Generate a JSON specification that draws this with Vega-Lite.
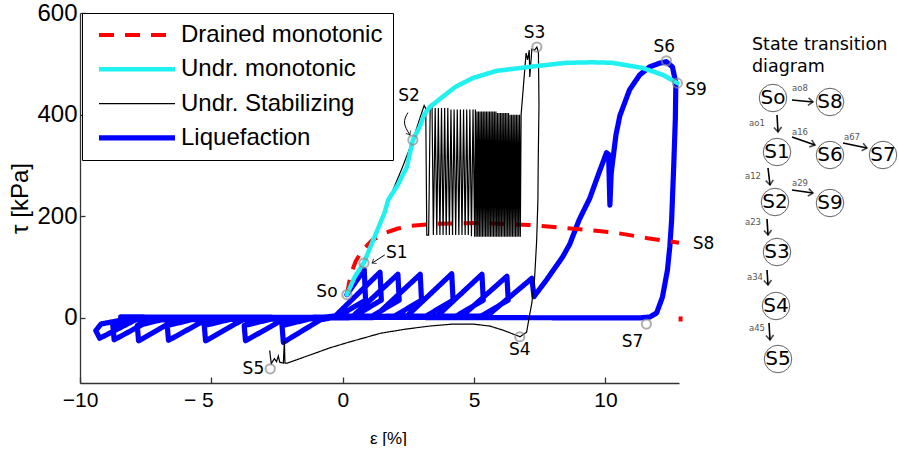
{
  "$schema": "https://vega.github.io/schema/vega-lite/v6.json",
  "background": "white",
  "padding": {"left": 8, "top": 1, "right": 0, "bottom": 0},
  "bounds": "flush",
  "spacing": 54,
  "config": {
    "view": {"stroke": null},
    "axis": {
      "grid": false,
      "domainColor": "#333",
      "domainWidth": 1.3,
      "tickColor": "#333",
      "tickWidth": 1.3,
      "labelColor": "#000",
      "titleColor": "#000",
      "labelFont": "Liberation Sans",
      "titleFont": "Liberation Sans",
      "titleFontWeight": "normal",
      "labelFlush": false,
      "labelOverlap": false
    },
    "text": {"font": "DejaVu Sans"}
  },
  "datasets": {
    "curves": [
      {"s": "Liquefaction", "i": 1, "x": 0.16, "y": 46},
      {"s": "Liquefaction", "i": 2, "x": 0.82, "y": 95},
      {"s": "Liquefaction", "i": 3, "x": 0.87, "y": 35},
      {"s": "Liquefaction", "i": 4, "x": -0.18, "y": 3},
      {"s": "Liquefaction", "i": 5, "x": -0.86, "y": -4},
      {"s": "Liquefaction", "i": 6, "x": -2.26, "y": -48},
      {"s": "Liquefaction", "i": 7, "x": -2.31, "y": -15},
      {"s": "Liquefaction", "i": 8, "x": -1.26, "y": -2},
      {"s": "Liquefaction", "i": 9, "x": -0.28, "y": 4},
      {"s": "Liquefaction", "i": 10, "x": 1.42, "y": 90},
      {"s": "Liquefaction", "i": 11, "x": 1.47, "y": 35},
      {"s": "Liquefaction", "i": 12, "x": 0.42, "y": 3},
      {"s": "Liquefaction", "i": 13, "x": -2.3, "y": -4},
      {"s": "Liquefaction", "i": 14, "x": -3.7, "y": -45},
      {"s": "Liquefaction", "i": 15, "x": -3.75, "y": -15},
      {"s": "Liquefaction", "i": 16, "x": -2.7, "y": -2},
      {"s": "Liquefaction", "i": 17, "x": 0.4, "y": 4},
      {"s": "Liquefaction", "i": 18, "x": 2.1, "y": 86},
      {"s": "Liquefaction", "i": 19, "x": 2.15, "y": 35},
      {"s": "Liquefaction", "i": 20, "x": 1.1, "y": 3},
      {"s": "Liquefaction", "i": 21, "x": -3.82, "y": -4},
      {"s": "Liquefaction", "i": 22, "x": -5.22, "y": -45},
      {"s": "Liquefaction", "i": 23, "x": -5.27, "y": -15},
      {"s": "Liquefaction", "i": 24, "x": -4.22, "y": -2},
      {"s": "Liquefaction", "i": 25, "x": 1.25, "y": 4},
      {"s": "Liquefaction", "i": 26, "x": 2.95, "y": 86},
      {"s": "Liquefaction", "i": 27, "x": 3.0, "y": 35},
      {"s": "Liquefaction", "i": 28, "x": 1.95, "y": 3},
      {"s": "Liquefaction", "i": 29, "x": -5.23, "y": -4},
      {"s": "Liquefaction", "i": 30, "x": -6.63, "y": -44},
      {"s": "Liquefaction", "i": 31, "x": -6.68, "y": -15},
      {"s": "Liquefaction", "i": 32, "x": -5.63, "y": -2},
      {"s": "Liquefaction", "i": 33, "x": 2.45, "y": 4},
      {"s": "Liquefaction", "i": 34, "x": 4.15, "y": 87},
      {"s": "Liquefaction", "i": 35, "x": 4.2, "y": 35},
      {"s": "Liquefaction", "i": 36, "x": 3.15, "y": 3},
      {"s": "Liquefaction", "i": 37, "x": -6.37, "y": -4},
      {"s": "Liquefaction", "i": 38, "x": -7.77, "y": -45},
      {"s": "Liquefaction", "i": 39, "x": -7.82, "y": -15},
      {"s": "Liquefaction", "i": 40, "x": -6.77, "y": -2},
      {"s": "Liquefaction", "i": 41, "x": 3.6, "y": 4},
      {"s": "Liquefaction", "i": 42, "x": 5.3, "y": 86},
      {"s": "Liquefaction", "i": 43, "x": 5.35, "y": 35},
      {"s": "Liquefaction", "i": 44, "x": 4.3, "y": 3},
      {"s": "Liquefaction", "i": 45, "x": -7.3, "y": -4},
      {"s": "Liquefaction", "i": 46, "x": -8.7, "y": -43},
      {"s": "Liquefaction", "i": 47, "x": -8.75, "y": -15},
      {"s": "Liquefaction", "i": 48, "x": -7.7, "y": -2},
      {"s": "Liquefaction", "i": 49, "x": 4.55, "y": 4},
      {"s": "Liquefaction", "i": 50, "x": 6.25, "y": 82},
      {"s": "Liquefaction", "i": 51, "x": 6.3, "y": 35},
      {"s": "Liquefaction", "i": 52, "x": 5.25, "y": 3},
      {"s": "Liquefaction", "i": 53, "x": -7.9, "y": -4},
      {"s": "Liquefaction", "i": 54, "x": -9.25, "y": -40},
      {"s": "Liquefaction", "i": 55, "x": -9.4, "y": -25},
      {"s": "Liquefaction", "i": 56, "x": -9.2, "y": -12},
      {"s": "Liquefaction", "i": 57, "x": -8.2, "y": -2},
      {"s": "Liquefaction", "i": 58, "x": 5.5, "y": 4},
      {"s": "Liquefaction", "i": 59, "x": 7.2, "y": 78},
      {"s": "Liquefaction", "i": 60, "x": 7.28, "y": 42},
      {"s": "Liquefaction", "i": 61, "x": 7.76, "y": 75},
      {"s": "Liquefaction", "i": 62, "x": 8.37, "y": 120},
      {"s": "Liquefaction", "i": 63, "x": 8.64, "y": 145},
      {"s": "Liquefaction", "i": 64, "x": 9.0, "y": 193},
      {"s": "Liquefaction", "i": 65, "x": 9.4, "y": 235},
      {"s": "Liquefaction", "i": 66, "x": 9.75, "y": 285},
      {"s": "Liquefaction", "i": 67, "x": 10.04, "y": 325},
      {"s": "Liquefaction", "i": 68, "x": 10.12, "y": 322},
      {"s": "Liquefaction", "i": 69, "x": 10.17, "y": 222},
      {"s": "Liquefaction", "i": 70, "x": 10.22, "y": 285},
      {"s": "Liquefaction", "i": 71, "x": 10.4, "y": 360},
      {"s": "Liquefaction", "i": 72, "x": 10.55, "y": 398},
      {"s": "Liquefaction", "i": 73, "x": 10.92, "y": 449},
      {"s": "Liquefaction", "i": 74, "x": 11.3, "y": 478},
      {"s": "Liquefaction", "i": 75, "x": 11.68, "y": 494},
      {"s": "Liquefaction", "i": 76, "x": 12.05, "y": 501},
      {"s": "Liquefaction", "i": 77, "x": 12.32, "y": 504},
      {"s": "Liquefaction", "i": 78, "x": 12.55, "y": 494},
      {"s": "Liquefaction", "i": 79, "x": 12.68, "y": 462},
      {"s": "Liquefaction", "i": 80, "x": 12.66, "y": 390},
      {"s": "Liquefaction", "i": 81, "x": 12.6, "y": 300},
      {"s": "Liquefaction", "i": 82, "x": 12.52, "y": 193},
      {"s": "Liquefaction", "i": 83, "x": 12.45, "y": 140},
      {"s": "Liquefaction", "i": 84, "x": 12.36, "y": 94},
      {"s": "Liquefaction", "i": 85, "x": 12.17, "y": 41},
      {"s": "Liquefaction", "i": 86, "x": 11.95, "y": 10},
      {"s": "Liquefaction", "i": 87, "x": 11.7, "y": 2},
      {"s": "Liquefaction", "i": 88, "x": 11.3, "y": 0},
      {"s": "Liquefaction", "i": 89, "x": -8.45, "y": 2},

      {"s": "Drained monotonic", "seg": 1, "i": 1, "x": 0.16, "y": 46},
      {"s": "Drained monotonic", "seg": 1, "i": 2, "x": 0.3, "y": 85},
      {"s": "Drained monotonic", "seg": 1, "i": 3, "x": 0.5, "y": 112},
      {"s": "Drained monotonic", "seg": 1, "i": 4, "x": 0.73, "y": 132},
      {"s": "Drained monotonic", "seg": 1, "i": 5, "x": 1.1, "y": 152},
      {"s": "Drained monotonic", "seg": 1, "i": 6, "x": 1.6, "y": 167},
      {"s": "Drained monotonic", "seg": 1, "i": 7, "x": 2.1, "y": 176},
      {"s": "Drained monotonic", "seg": 1, "i": 8, "x": 2.56, "y": 181},
      {"s": "Drained monotonic", "seg": 1, "i": 9, "x": 3.5, "y": 185},
      {"s": "Drained monotonic", "seg": 1, "i": 10, "x": 5.2, "y": 187},
      {"s": "Drained monotonic", "seg": 1, "i": 11, "x": 7.1, "y": 183},
      {"s": "Drained monotonic", "seg": 1, "i": 12, "x": 8.45, "y": 177},
      {"s": "Drained monotonic", "seg": 1, "i": 13, "x": 9.4, "y": 173},
      {"s": "Drained monotonic", "seg": 1, "i": 14, "x": 10.45, "y": 167},
      {"s": "Drained monotonic", "seg": 1, "i": 15, "x": 11.6, "y": 157},
      {"s": "Drained monotonic", "seg": 1, "i": 16, "x": 12.8, "y": 148},
      {"s": "Drained monotonic", "seg": 2, "i": 17, "x": 12.86, "y": 3},
      {"s": "Drained monotonic", "seg": 2, "i": 18, "x": 12.86, "y": -7},

      {"s": "Undr. Stabilizing", "i": 1, "x": 0.16, "y": 46},
      {"s": "Undr. Stabilizing", "i": 2, "x": 0.5, "y": 78},
      {"s": "Undr. Stabilizing", "i": 3, "x": 0.82, "y": 108},
      {"s": "Undr. Stabilizing", "i": 4, "x": 1.3, "y": 170},
      {"s": "Undr. Stabilizing", "i": 5, "x": 1.9, "y": 250},
      {"s": "Undr. Stabilizing", "i": 6, "x": 2.3, "y": 300},
      {"s": "Undr. Stabilizing", "i": 7, "x": 2.67, "y": 350},
      {"s": "Undr. Stabilizing", "i": 8, "x": 2.95, "y": 395},
      {"s": "Undr. Stabilizing", "i": 9, "x": 3.1, "y": 418},
      {"s": "Undr. Stabilizing", "i": 10, "x": 3.16, "y": 412},
      {"s": "Undr. Stabilizing", "i": 11, "x": 3.2, "y": 163},
      {"s": "Undr. Stabilizing", "i": 12, "x": 3.27, "y": 163},
      {"s": "Undr. Stabilizing", "i": 13, "x": 3.33, "y": 415},
      {"s": "Undr. Stabilizing", "i": 14, "x": 3.4, "y": 419},
      {"s": "Undr. Stabilizing", "i": 15, "x": 3.45, "y": 163},
      {"s": "Undr. Stabilizing", "i": 16, "x": 3.52, "y": 413},
      {"s": "Undr. Stabilizing", "i": 17, "x": 3.58, "y": 163},
      {"s": "Undr. Stabilizing", "i": 18, "x": 3.64, "y": 413},
      {"s": "Undr. Stabilizing", "i": 19, "x": 3.70, "y": 163},
      {"s": "Undr. Stabilizing", "i": 20, "x": 3.76, "y": 413},
      {"s": "Undr. Stabilizing", "i": 21, "x": 3.82, "y": 163},
      {"s": "Undr. Stabilizing", "i": 22, "x": 3.88, "y": 413},
      {"s": "Undr. Stabilizing", "i": 23, "x": 3.94, "y": 163},
      {"s": "Undr. Stabilizing", "i": 24, "x": 4.00, "y": 413},
      {"s": "Undr. Stabilizing", "i": 25, "x": 4.06, "y": 163},
      {"s": "Undr. Stabilizing", "i": 26, "x": 4.12, "y": 410},
      {"s": "Undr. Stabilizing", "i": 27, "x": 4.18, "y": 163},
      {"s": "Undr. Stabilizing", "i": 28, "x": 4.24, "y": 410},
      {"s": "Undr. Stabilizing", "i": 29, "x": 4.30, "y": 163},
      {"s": "Undr. Stabilizing", "i": 30, "x": 4.36, "y": 410},
      {"s": "Undr. Stabilizing", "i": 31, "x": 4.42, "y": 163},
      {"s": "Undr. Stabilizing", "i": 32, "x": 4.48, "y": 410},
      {"s": "Undr. Stabilizing", "i": 33, "x": 4.54, "y": 163},
      {"s": "Undr. Stabilizing", "i": 34, "x": 4.60, "y": 410},
      {"s": "Undr. Stabilizing", "i": 35, "x": 4.66, "y": 163},
      {"s": "Undr. Stabilizing", "i": 36, "x": 4.72, "y": 410},
      {"s": "Undr. Stabilizing", "i": 37, "x": 4.78, "y": 163},
      {"s": "Undr. Stabilizing", "i": 38, "x": 4.84, "y": 410},
      {"s": "Undr. Stabilizing", "i": 39, "x": 4.90, "y": 161},
      {"s": "Undr. Stabilizing", "i": 40, "x": 4.96, "y": 410},
      {"s": "Undr. Stabilizing", "i": 41, "x": 5.02, "y": 160},
      {"s": "Undr. Stabilizing", "i": 42, "x": 5.05, "y": 410},
      {"s": "Undr. Stabilizing", "i": 43, "x": 5.08, "y": 160},
      {"s": "Undr. Stabilizing", "i": 44, "x": 5.11, "y": 406},
      {"s": "Undr. Stabilizing", "i": 45, "x": 5.14, "y": 160},
      {"s": "Undr. Stabilizing", "i": 46, "x": 5.17, "y": 406},
      {"s": "Undr. Stabilizing", "i": 47, "x": 5.20, "y": 160},
      {"s": "Undr. Stabilizing", "i": 48, "x": 5.23, "y": 406},
      {"s": "Undr. Stabilizing", "i": 49, "x": 5.26, "y": 160},
      {"s": "Undr. Stabilizing", "i": 50, "x": 5.29, "y": 406},
      {"s": "Undr. Stabilizing", "i": 51, "x": 5.32, "y": 160},
      {"s": "Undr. Stabilizing", "i": 52, "x": 5.35, "y": 406},
      {"s": "Undr. Stabilizing", "i": 53, "x": 5.38, "y": 160},
      {"s": "Undr. Stabilizing", "i": 54, "x": 5.41, "y": 406},
      {"s": "Undr. Stabilizing", "i": 55, "x": 5.44, "y": 160},
      {"s": "Undr. Stabilizing", "i": 56, "x": 5.47, "y": 406},
      {"s": "Undr. Stabilizing", "i": 57, "x": 5.50, "y": 160},
      {"s": "Undr. Stabilizing", "i": 58, "x": 5.53, "y": 406},
      {"s": "Undr. Stabilizing", "i": 59, "x": 5.56, "y": 160},
      {"s": "Undr. Stabilizing", "i": 60, "x": 5.59, "y": 406},
      {"s": "Undr. Stabilizing", "i": 61, "x": 5.62, "y": 160},
      {"s": "Undr. Stabilizing", "i": 62, "x": 5.65, "y": 406},
      {"s": "Undr. Stabilizing", "i": 63, "x": 5.68, "y": 160},
      {"s": "Undr. Stabilizing", "i": 64, "x": 5.71, "y": 406},
      {"s": "Undr. Stabilizing", "i": 65, "x": 5.74, "y": 160},
      {"s": "Undr. Stabilizing", "i": 66, "x": 5.77, "y": 406},
      {"s": "Undr. Stabilizing", "i": 67, "x": 5.80, "y": 160},
      {"s": "Undr. Stabilizing", "i": 68, "x": 5.83, "y": 406},
      {"s": "Undr. Stabilizing", "i": 69, "x": 5.86, "y": 160},
      {"s": "Undr. Stabilizing", "i": 70, "x": 5.89, "y": 403},
      {"s": "Undr. Stabilizing", "i": 71, "x": 5.92, "y": 160},
      {"s": "Undr. Stabilizing", "i": 72, "x": 5.95, "y": 403},
      {"s": "Undr. Stabilizing", "i": 73, "x": 5.98, "y": 160},
      {"s": "Undr. Stabilizing", "i": 74, "x": 6.01, "y": 403},
      {"s": "Undr. Stabilizing", "i": 75, "x": 6.04, "y": 160},
      {"s": "Undr. Stabilizing", "i": 76, "x": 6.07, "y": 403},
      {"s": "Undr. Stabilizing", "i": 77, "x": 6.10, "y": 160},
      {"s": "Undr. Stabilizing", "i": 78, "x": 6.13, "y": 403},
      {"s": "Undr. Stabilizing", "i": 79, "x": 6.16, "y": 160},
      {"s": "Undr. Stabilizing", "i": 80, "x": 6.19, "y": 403},
      {"s": "Undr. Stabilizing", "i": 81, "x": 6.22, "y": 160},
      {"s": "Undr. Stabilizing", "i": 82, "x": 6.25, "y": 403},
      {"s": "Undr. Stabilizing", "i": 83, "x": 6.28, "y": 160},
      {"s": "Undr. Stabilizing", "i": 84, "x": 6.31, "y": 403},
      {"s": "Undr. Stabilizing", "i": 85, "x": 6.34, "y": 160},
      {"s": "Undr. Stabilizing", "i": 86, "x": 6.37, "y": 400},
      {"s": "Undr. Stabilizing", "i": 87, "x": 6.40, "y": 160},
      {"s": "Undr. Stabilizing", "i": 88, "x": 6.43, "y": 400},
      {"s": "Undr. Stabilizing", "i": 89, "x": 6.46, "y": 160},
      {"s": "Undr. Stabilizing", "i": 90, "x": 6.49, "y": 400},
      {"s": "Undr. Stabilizing", "i": 91, "x": 6.52, "y": 160},
      {"s": "Undr. Stabilizing", "i": 92, "x": 6.55, "y": 400},
      {"s": "Undr. Stabilizing", "i": 93, "x": 6.58, "y": 160},
      {"s": "Undr. Stabilizing", "i": 94, "x": 6.61, "y": 400},
      {"s": "Undr. Stabilizing", "i": 95, "x": 6.64, "y": 160},
      {"s": "Undr. Stabilizing", "i": 96, "x": 6.67, "y": 400},
      {"s": "Undr. Stabilizing", "i": 97, "x": 6.70, "y": 160},
      {"s": "Undr. Stabilizing", "i": 98, "x": 6.73, "y": 400},
      {"s": "Undr. Stabilizing", "i": 99, "x": 6.76, "y": 160},
      {"s": "Undr. Stabilizing", "i": 100, "x": 6.79, "y": 400},
      {"s": "Undr. Stabilizing", "i": 101, "x": 6.9, "y": 470},
      {"s": "Undr. Stabilizing", "i": 102, "x": 6.98, "y": 521},
      {"s": "Undr. Stabilizing", "i": 103, "x": 7.04, "y": 508},
      {"s": "Undr. Stabilizing", "i": 104, "x": 7.1, "y": 527},
      {"s": "Undr. Stabilizing", "i": 105, "x": 7.12, "y": 474},
      {"s": "Undr. Stabilizing", "i": 106, "x": 7.2, "y": 529},
      {"s": "Undr. Stabilizing", "i": 107, "x": 7.3, "y": 527},
      {"s": "Undr. Stabilizing", "i": 108, "x": 7.39, "y": 533},
      {"s": "Undr. Stabilizing", "i": 109, "x": 7.45, "y": 522},
      {"s": "Undr. Stabilizing", "i": 110, "x": 7.47, "y": 420},
      {"s": "Undr. Stabilizing", "i": 111, "x": 7.44, "y": 300},
      {"s": "Undr. Stabilizing", "i": 112, "x": 7.43, "y": 232},
      {"s": "Undr. Stabilizing", "i": 113, "x": 7.38, "y": 150},
      {"s": "Undr. Stabilizing", "i": 114, "x": 7.3, "y": 75},
      {"s": "Undr. Stabilizing", "i": 115, "x": 7.2, "y": 30},
      {"s": "Undr. Stabilizing", "i": 116, "x": 7.1, "y": 2},
      {"s": "Undr. Stabilizing", "i": 117, "x": 7.0, "y": -28},
      {"s": "Undr. Stabilizing", "i": 118, "x": 6.75, "y": -37},
      {"s": "Undr. Stabilizing", "i": 119, "x": 6.4, "y": -30},
      {"s": "Undr. Stabilizing", "i": 120, "x": 6.1, "y": -24},
      {"s": "Undr. Stabilizing", "i": 121, "x": 5.6, "y": -16},
      {"s": "Undr. Stabilizing", "i": 122, "x": 4.95, "y": -12},
      {"s": "Undr. Stabilizing", "i": 123, "x": 4.2, "y": -12},
      {"s": "Undr. Stabilizing", "i": 124, "x": 3.3, "y": -16},
      {"s": "Undr. Stabilizing", "i": 125, "x": 2.4, "y": -22},
      {"s": "Undr. Stabilizing", "i": 126, "x": 1.45, "y": -30},
      {"s": "Undr. Stabilizing", "i": 127, "x": 0.28, "y": -47},
      {"s": "Undr. Stabilizing", "i": 128, "x": -0.5, "y": -59},
      {"s": "Undr. Stabilizing", "i": 129, "x": -1.3, "y": -74},
      {"s": "Undr. Stabilizing", "i": 130, "x": -2.12, "y": -89},
      {"s": "Undr. Stabilizing", "i": 131, "x": -2.2, "y": -89},
      {"s": "Undr. Stabilizing", "i": 132, "x": -2.22, "y": -45},
      {"s": "Undr. Stabilizing", "i": 133, "x": -2.26, "y": -89},
      {"s": "Undr. Stabilizing", "i": 134, "x": -2.4, "y": -87},
      {"s": "Undr. Stabilizing", "i": 135, "x": -2.45, "y": -75},
      {"s": "Undr. Stabilizing", "i": 136, "x": -2.52, "y": -86},
      {"s": "Undr. Stabilizing", "i": 137, "x": -2.6, "y": -80},
      {"s": "Undr. Stabilizing", "i": 138, "x": -2.72, "y": -90},
      {"s": "Undr. Stabilizing", "i": 139, "x": -2.78, "y": -64},

      {"s": "Undr. monotonic", "i": 1, "x": 0.16, "y": 46},
      {"s": "Undr. monotonic", "i": 2, "x": 0.45, "y": 80},
      {"s": "Undr. monotonic", "i": 3, "x": 0.82, "y": 110},
      {"s": "Undr. monotonic", "i": 4, "x": 1.2, "y": 158},
      {"s": "Undr. monotonic", "i": 5, "x": 1.6, "y": 208},
      {"s": "Undr. monotonic", "i": 6, "x": 1.73, "y": 232},
      {"s": "Undr. monotonic", "i": 7, "x": 2.1, "y": 262},
      {"s": "Undr. monotonic", "i": 8, "x": 2.44, "y": 297},
      {"s": "Undr. monotonic", "i": 9, "x": 2.67, "y": 350},
      {"s": "Undr. monotonic", "i": 10, "x": 2.93, "y": 376},
      {"s": "Undr. monotonic", "i": 11, "x": 3.1, "y": 400},
      {"s": "Undr. monotonic", "i": 12, "x": 3.31, "y": 415},
      {"s": "Undr. monotonic", "i": 13, "x": 3.8, "y": 435},
      {"s": "Undr. monotonic", "i": 14, "x": 4.3, "y": 455},
      {"s": "Undr. monotonic", "i": 15, "x": 4.95, "y": 472},
      {"s": "Undr. monotonic", "i": 16, "x": 5.85, "y": 486},
      {"s": "Undr. monotonic", "i": 17, "x": 7.1, "y": 494},
      {"s": "Undr. monotonic", "i": 18, "x": 8.5, "y": 502},
      {"s": "Undr. monotonic", "i": 19, "x": 9.5, "y": 503},
      {"s": "Undr. monotonic", "i": 20, "x": 10.25, "y": 502},
      {"s": "Undr. monotonic", "i": 21, "x": 11.4, "y": 492},
      {"s": "Undr. monotonic", "i": 22, "x": 12.2, "y": 478},
      {"s": "Undr. monotonic", "i": 23, "x": 12.74, "y": 462}
    ],
    "states": [
      {"name": "So", "x": 0.16, "y": 46, "lx": -0.6, "ly": 51},
      {"name": "S1", "x": 0.81, "y": 108, "lx": 2.06, "ly": 128},
      {"name": "S2", "x": 2.67, "y": 350, "lx": 2.52, "ly": 437},
      {"name": "S3", "x": 7.39, "y": 533, "lx": 7.3, "ly": 561},
      {"name": "S6", "x": 12.32, "y": 506, "lx": 12.24, "ly": 533},
      {"name": "S9", "x": 12.74, "y": 462, "lx": 13.45, "ly": 449},
      {"name": "S4", "x": 6.74, "y": -37, "lx": 6.74, "ly": -63},
      {"name": "S7", "x": 11.56, "y": -12, "lx": 11.03, "ly": -47},
      {"name": "S5", "x": -2.76, "y": -100, "lx": -3.4, "ly": -100},
      {"name": "S8", "lx": 13.73, "ly": 146}
    ],
    "pointers": [
      {"id": "S1", "i": 1, "x": 1.6, "y": 124},
      {"id": "S1", "i": 2, "x": 1.12, "y": 108},
      {"id": "S2", "i": 1, "x": 2.48, "y": 404},
      {"id": "S2", "i": 2, "x": 2.27, "y": 384},
      {"id": "S2", "i": 3, "x": 2.56, "y": 360}
    ],
    "pointerHeads": [
      {"id": "S1", "x": 1.12, "y": 108, "a": 148},
      {"id": "S2", "x": 2.56, "y": 360, "a": 60}
    ],
    "nodes": [
      {"n": "So", "x": 40, "y": 85},
      {"n": "S8", "x": 97, "y": 89},
      {"n": "S1", "x": 44, "y": 139},
      {"n": "S6", "x": 97, "y": 142},
      {"n": "S7", "x": 150, "y": 142},
      {"n": "S2", "x": 42, "y": 189},
      {"n": "S9", "x": 97, "y": 190},
      {"n": "S3", "x": 44, "y": 239},
      {"n": "S4", "x": 43, "y": 293},
      {"n": "S5", "x": 45, "y": 346}
    ],
    "edges": [
      {"t": "ao8", "x": 59, "y": 87, "x2": 80, "y2": 89, "a": 5, "lx": 67, "ly": 75},
      {"t": "ao1", "x": 44, "y": 102, "x2": 45, "y2": 119, "a": 87, "lx": 24, "ly": 110},
      {"t": "a16", "x": 59, "y": 124, "x2": 82, "y2": 132, "a": 19, "lx": 67, "ly": 119},
      {"t": "a67", "x": 110, "y": 130, "x2": 134, "y2": 135, "a": 12, "lx": 119, "ly": 124},
      {"t": "a12", "x": 35, "y": 155, "x2": 37, "y2": 172, "a": 84, "lx": 20, "ly": 163},
      {"t": "a29", "x": 59, "y": 177, "x2": 80, "y2": 180, "a": 8, "lx": 67, "ly": 170},
      {"t": "a23", "x": 34, "y": 206, "x2": 35, "y2": 222, "a": 87, "lx": 20, "ly": 209},
      {"t": "a34", "x": 34, "y": 257, "x2": 35, "y2": 272, "a": 86, "lx": 22, "ly": 264},
      {"t": "a45", "x": 36, "y": 310, "x2": 37, "y2": 327, "a": 87, "lx": 24, "ly": 315}
    ],
    "heading": [
      {"t": "State transition", "x": 19, "y": 37},
      {"t": "diagram", "x": 19, "y": 59}
    ]
  },
  "hconcat": [
    {
      "width": 599,
      "height": 370,
      "layer": [
        {
          "data": {"name": "curves"},
          "encoding": {
            "x": {
              "field": "x",
              "type": "quantitative",
              "scale": {"domain": [-10, 12.8], "nice": false, "zero": false},
              "axis": {
                "values": [-10, -5, 0, 5, 10],
                "title": "ε [%]",
                "titleFontSize": 17,
                "titlePadding": 20,
                "titleX": 308,
                "tickSize": -6,
                "labelFontSize": 21,
                "labelPadding": 12,
                "labelExpr": "datum.value == -5 ? '− 5' : datum.label",
                "labelOffset": {"condition": {"test": "datum.value == -5", "value": -13}, "value": 0}
              }
            },
            "y": {
              "field": "y",
              "type": "quantitative",
              "scale": {"domain": [-128, 600], "nice": false, "zero": false},
              "axis": {
                "values": [0, 200, 400, 600],
                "title": "τ [kPa]",
                "titleFontSize": 24,
                "titlePadding": 4,
                "tickSize": -5,
                "labelFontSize": 24,
                "labelPadding": 8
              }
            },
            "order": {"field": "i", "type": "quantitative"},
            "color": {
              "field": "s",
              "type": "nominal",
              "scale": {
                "domain": ["Drained monotonic", "Undr. monotonic", "Undr. Stabilizing", "Liquefaction"],
                "range": ["#ff0000", "#1ff0f0", "#000000", "#0000ff"]
              },
              "legend": {
                "orient": "none",
                "legendX": 2,
                "legendY": 0,
                "title": null,
                "symbolType": "stroke",
                "symbolSize": 5776,
                "symbolOffset": 4,
                "clipHeight": 24,
                "labelFont": "Liberation Sans",
                "labelFontSize": 24,
                "labelColor": "#000",
                "labelLimit": 400,
                "labelOffset": 3,
                "rowPadding": 10.3,
                "padding": 10,
                "strokeColor": "#000",
                "fillColor": "#fff",
                "cornerRadius": 0
              }
            },
            "strokeDash": {
              "field": "s",
              "type": "nominal",
              "scale": {
                "domain": ["Drained monotonic", "Undr. monotonic", "Undr. Stabilizing", "Liquefaction"],
                "range": [[15, 11], [1, 0], [1, 0], [1, 0]]
              }
            },
            "strokeWidth": {
              "field": "s",
              "type": "nominal",
              "scale": {
                "type": "ordinal",
                "domain": ["Drained monotonic", "Undr. monotonic", "Undr. Stabilizing", "Liquefaction"],
                "range": [4, 4.5, 1.2, 5.2]
              }
            }
          },
          "layer": [
            {
              "transform": [{"filter": "datum.s == 'Liquefaction'"}],
              "mark": {"type": "line", "strokeJoin": "round", "strokeCap": "round"}
            },
            {
              "transform": [{"filter": "datum.s == 'Drained monotonic'"}],
              "mark": {"type": "line", "strokeJoin": "round"},
              "encoding": {"detail": {"field": "seg", "type": "nominal"}}
            },
            {
              "transform": [{"filter": "datum.s == 'Undr. Stabilizing'"}],
              "mark": {"type": "line", "strokeJoin": "miter"}
            },
            {
              "transform": [{"filter": "datum.s == 'Undr. monotonic'"}],
              "mark": {"type": "line", "strokeJoin": "round", "strokeCap": "round"}
            }
          ]
        },
        {
          "data": {"name": "states"},
          "transform": [{"filter": "isValid(datum.x)"}],
          "mark": {"type": "point", "shape": "circle", "filled": false, "size": 85, "stroke": "#8c8c8c", "strokeWidth": 2},
          "encoding": {
            "x": {"field": "x", "type": "quantitative"},
            "y": {"field": "y", "type": "quantitative"}
          }
        },
        {
          "data": {"name": "states"},
          "mark": {"type": "text", "font": "DejaVu Sans", "fontSize": 17, "color": "#000", "align": "center", "baseline": "middle"},
          "encoding": {
            "x": {"field": "lx", "type": "quantitative"},
            "y": {"field": "ly", "type": "quantitative"},
            "text": {"field": "name"}
          }
        },
        {
          "data": {"name": "pointers"},
          "mark": {"type": "line", "interpolate": "basis", "color": "#000", "strokeWidth": 1},
          "encoding": {
            "x": {"field": "x", "type": "quantitative"},
            "y": {"field": "y", "type": "quantitative"},
            "detail": {"field": "id"},
            "order": {"field": "i", "type": "quantitative"}
          }
        },
        {
          "data": {"name": "pointerHeads"},
          "mark": {"type": "point", "shape": "M-1,-0.8L0,0L-1,0.8", "filled": false, "size": 50, "stroke": "#000", "strokeWidth": 1},
          "encoding": {
            "x": {"field": "x", "type": "quantitative"},
            "y": {"field": "y", "type": "quantitative"},
            "angle": {"field": "a", "type": "quantitative", "scale": null}
          }
        }
      ]
    },
    {
      "width": 166,
      "height": 420,
      "encoding": {
        "x": {"type": "quantitative", "scale": {"domain": [0, 166], "nice": false, "zero": false}, "axis": null},
        "y": {"type": "quantitative", "scale": {"domain": [0, 420], "nice": false, "zero": false, "reverse": true}, "axis": null}
      },
      "layer": [
        {
          "mark": {"type": "rule", "color": "#000", "strokeWidth": 2},
          "encoding": {
            "x": {"datum": 0, "type": "quantitative"},
            "y": {"datum": 6, "type": "quantitative"},
            "y2": {"datum": 420}
          }
        },
        {
          "data": {"name": "heading"},
          "mark": {"type": "text", "font": "DejaVu Sans", "fontSize": 17.5, "align": "left", "baseline": "alphabetic", "color": "#000"},
          "encoding": {
            "x": {"field": "x", "type": "quantitative"},
            "y": {"field": "y", "type": "quantitative"},
            "text": {"field": "t"}
          }
        },
        {
          "data": {"name": "edges"},
          "mark": {"type": "rule", "color": "#000", "strokeWidth": 1.6},
          "encoding": {
            "x": {"field": "x", "type": "quantitative"},
            "y": {"field": "y", "type": "quantitative"},
            "x2": {"field": "x2"},
            "y2": {"field": "y2"}
          }
        },
        {
          "data": {"name": "edges"},
          "mark": {"type": "point", "shape": "M-1,-0.8L0,0L-1,0.8", "filled": false, "size": 90, "stroke": "#000", "strokeWidth": 1.6},
          "encoding": {
            "x": {"field": "x2", "type": "quantitative"},
            "y": {"field": "y2", "type": "quantitative"},
            "angle": {"field": "a", "type": "quantitative", "scale": null}
          }
        },
        {
          "data": {"name": "edges"},
          "mark": {"type": "text", "font": "DejaVu Sans", "fontSize": 8.5, "align": "center", "baseline": "middle", "color": "#555"},
          "encoding": {
            "x": {"field": "lx", "type": "quantitative"},
            "y": {"field": "ly", "type": "quantitative"},
            "text": {"field": "t"}
          }
        },
        {
          "data": {"name": "nodes"},
          "mark": {"type": "point", "shape": "circle", "filled": true, "fill": "#fff", "size": 755, "stroke": "#222", "strokeWidth": 1},
          "encoding": {
            "x": {"field": "x", "type": "quantitative"},
            "y": {"field": "y", "type": "quantitative"}
          }
        },
        {
          "data": {"name": "nodes"},
          "mark": {"type": "text", "font": "DejaVu Sans", "fontSize": 20, "align": "center", "baseline": "middle", "color": "#000"},
          "encoding": {
            "x": {"field": "x", "type": "quantitative"},
            "y": {"field": "y", "type": "quantitative"},
            "text": {"field": "n"}
          }
        }
      ]
    }
  ]
}
